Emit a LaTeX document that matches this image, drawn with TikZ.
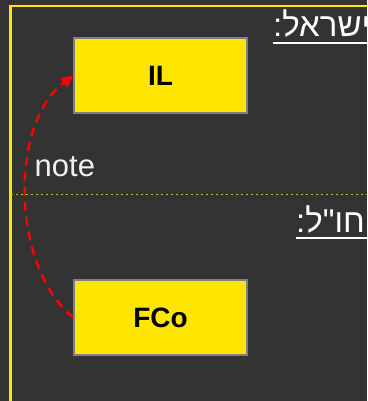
\documentclass[tikz,border=0pt]{standalone}
\usepackage{fontspec}
\setmainfont{Liberation Sans}
\newfontfamily\hebfont[Script=Hebrew]{Liberation Sans}
\TeXXeTstate=1
\usetikzlibrary{arrows.meta}
\definecolor{bg}{HTML}{333333}
\definecolor{ylw}{HTML}{FFE600}
\definecolor{dotylw}{HTML}{C8B428}
\definecolor{boxedge}{HTML}{7F7F7F}
\tikzset{
  ybox/.style={draw=boxedge, line width=1.4pt, fill=ylw, minimum width=173pt, minimum height=75pt, inner sep=0pt, font=\bfseries\fontsize{28}{30}\selectfont, text=black},
  heblabel/.style={text=white, font=\hebfont\fontsize{33}{36}\selectfont, inner sep=0pt, anchor=base west},
  notelabel/.style={text=white!94!black, font=\fontsize{31}{34}\selectfont, inner sep=0pt, anchor=base west},
  relarrow/.style={draw=red, line width=2.4pt, dash pattern=on 9pt off 6pt, -{Triangle[length=12pt,width=11pt]}},
}
\begin{document}
\begin{tikzpicture}[x=1pt,y=-1pt]
\useasboundingbox (0,0) rectangle (367,401);
\fill[bg] (0,0) rectangle (367,401);
\begin{scope}
\clip (0,0) rectangle (367,401);
\draw[ylw, line width=2.6pt] (10.7,420) -- (10.7,6.2) -- (400,6.2);
\draw[dotylw, line width=1.2pt, dash pattern=on 2.5pt off 2.5pt] (10.7,194.5) -- (367,194.5);
\node[heblabel] (il-label) at (273,37) {\beginR ישראל:\endR};
\draw[white, line width=2pt] (il-label.base west) ++(0,6) -- ++(120,0);
\node[heblabel] (fco-label) at (296,232.5) {\beginR חו"ל:\endR};
\draw[white, line width=2pt] (fco-label.base west) ++(0,5.5) -- ++(120,0);
\end{scope}
\node[ybox] (IL) at (160.5,75.5) {IL};
\node[ybox] (FCo) at (160.5,317.5) {FCo};
\node[notelabel] (note) at (34.5,176) {note};
\draw[relarrow] (FCo.west) .. controls (12,268) and (8,125) .. (IL.west);
\end{tikzpicture}
\end{document}
